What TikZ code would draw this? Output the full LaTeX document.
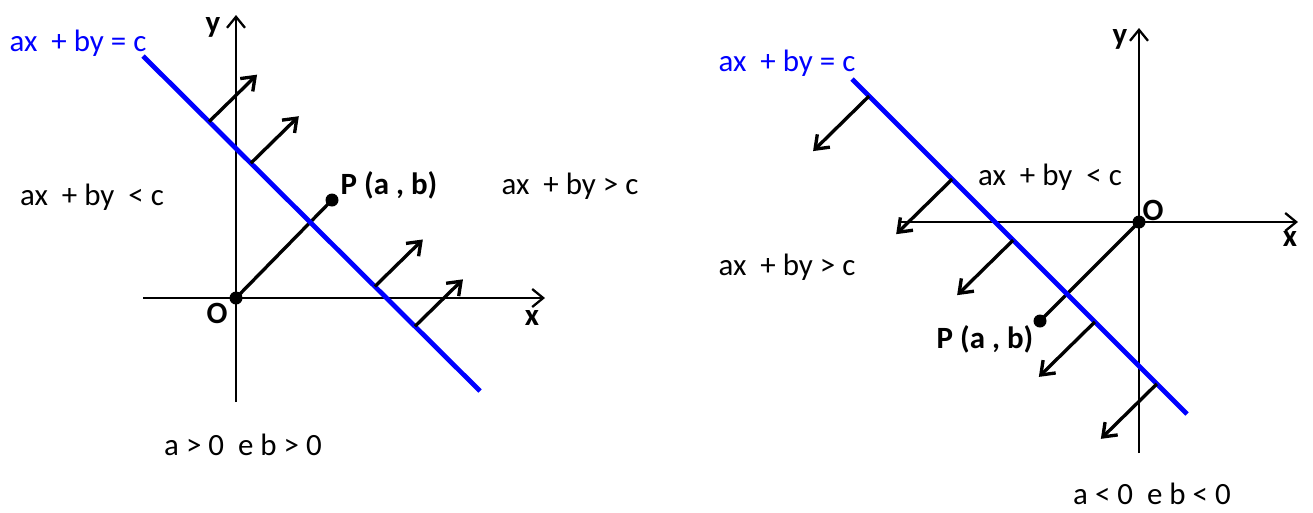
\documentclass[tikz,border=0pt]{standalone}
\usepackage{fontspec}
\setmainfont{Carlito}
\usetikzlibrary{calc, arrows.meta}

\tikzset{
  eixo/.style={line width=1.3pt, -{Straight Barb[length=2.2mm, width=3.6mm]}},
  seta/.style={line width=1.9pt, -{Straight Barb[length=2.4mm, width=3.6mm]}},
  reta/.style={blue, line width=2.7pt},
  rotulo/.style={font=\fontsize{17.6}{20}\selectfont, inner sep=0pt},
  negrito/.style={rotulo, font=\fontsize{17.6}{20}\selectfont\bfseries},
  ponto/.style={circle, fill, inner sep=0pt, minimum size=0.26cm},
}

\begin{document}
\begin{tikzpicture}[x=0.02cm, y=-0.02cm]
    \useasboundingbox (0,0) rectangle (1313,512);
    % Grafico da esquerda: a > 0 e b > 0
    \coordinate (yb1) at (236,402);
    \coordinate (yt1) at (236,15);
    \coordinate (xl1) at (143,298);
    \coordinate (xr1) at (545,298);
    \draw[eixo] (yb1) -- (yt1);
    \draw[eixo] (xl1) -- (xr1);
    \node[ponto] (O1) at (236,298) {};
    \node[ponto] (P1) at (332,200) {};
    \draw[line width=1.9pt] (O1.center) -- (P1.center);
    % Reta ax + by = c
    \coordinate (ra1) at (143,56);
    \coordinate (rb1) at (480,391);
    \draw[reta] (ra1) -- (rb1);
    \foreach \t in {0.196, 0.320, 0.688, 0.807} {
      \draw[seta] ($(ra1)!\t!(rb1)$) -- ++(48,-47);
    }
    % Rotulos
    \node[negrito] (ly1) at (213,27) {y};
    \node[negrito] (lx1) at (532,318) {x};
    \node[negrito] (lo1) at (217,313) {O};
    \node[negrito] (lp1) at (389,185) {P (a , b)};
    \node[rotulo, text=blue] (eq1) at (78,43) {ax~ + by = c};
    \node[rotulo] (me1) at (92,197) {ax~ + by~ < c};
    \node[rotulo] (ma1) at (570,186) {ax~ + by > c};
    \node[rotulo] (cd1) at (243,445) {a > 0~ e b > 0};

    % Grafico da direita: a < 0 e b < 0
    \coordinate (yb2) at (1139,453);
    \coordinate (yt2) at (1139,28);
    \coordinate (xl2) at (900,222);
    \coordinate (xr2) at (1298,222);
    \draw[eixo] (yb2) -- (yt2);
    \draw[eixo] (xl2) -- (xr2);
    \node[ponto] (O2) at (1139,222) {};
    \node[ponto] (P2) at (1040,321) {};
    \draw[line width=1.9pt] (O2.center) -- (P2.center);
    % Reta ax + by = c
    \coordinate (ra2) at (852,79);
    \coordinate (rb2) at (1187,414);
    \draw[reta] (ra2) -- (rb2);
    \foreach \t in {0.051, 0.299, 0.481, 0.725, 0.910} {
      \draw[seta] ($(ra2)!\t!(rb2)$) -- ++(-56,55);
    }
    % Rotulos
    \node[negrito] (ly2) at (1120,39) {y};
    \node[negrito] (lx2) at (1290,239) {x};
    \node[negrito] (lo2) at (1153,210) {O};
    \node[negrito] (lp2) at (985,339) {P (a , b)};
    \node[rotulo, text=blue] (eq2) at (787,63) {ax~ + by = c};
    \node[rotulo] (me2) at (1050,177) {ax~ + by~ < c};
    \node[rotulo] (ma2) at (787,267) {ax~ + by > c};
    \node[rotulo] (cd2) at (1152,494) {a < 0~ e b < 0};
  \end{tikzpicture}
\end{document}
